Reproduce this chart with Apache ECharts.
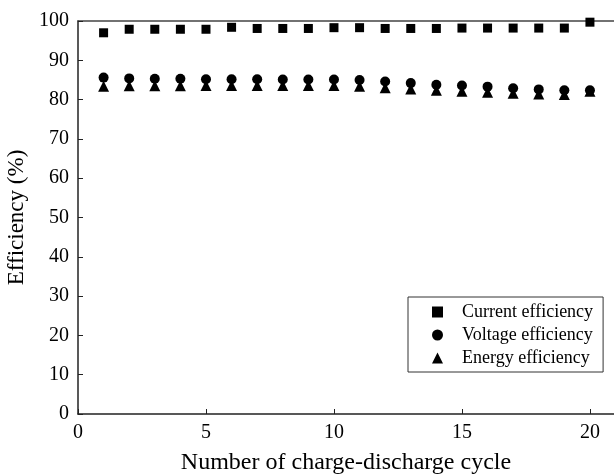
<!DOCTYPE html>
<html lang="en">
<head>
	<meta charset="UTF-8">
	<title>Efficiency</title>
	<script src="https://cdn.jsdelivr.net/npm/echarts@6/dist/echarts.min.js" type="text/javascript"></script>
	<style>
		html,body{margin:0;padding:0;background:#fff;}
		#chart{width:614px;height:474px;}
	</style>
</head>
<body>
<div id="chart"></div>
<script>
	// data
	var cycles=[1,2,3,4,5,6,7,8,9,10,11,12,13,14,15,16,17,18,19,20];
	var currentEff=[97.0,97.9,97.9,97.9,97.9,98.4,98.1,98.1,98.1,98.3,98.3,98.1,98.1,98.1,98.2,98.2,98.2,98.2,98.2,99.7];
	var voltageEff=[85.6,85.4,85.3,85.3,85.2,85.2,85.2,85.1,85.1,85.1,85.0,84.6,84.2,83.8,83.6,83.3,82.9,82.6,82.4,82.4];
	var energyEff=[83.4,83.5,83.5,83.5,83.6,83.6,83.6,83.6,83.6,83.6,83.4,83.0,82.7,82.4,82.1,81.9,81.6,81.4,81.3,82.1];
	var seriesNames=['Current efficiency','Voltage efficiency','Energy efficiency'];

	function pairs(xs,ys){
		var out=[];
		for(var i=0;i<xs.length;i++){
			out.push([xs[i],ys[i]]);
		}
		return out;
	}

	var font='"Liberation Serif","Times New Roman",serif';
	var myChart=echarts.init(document.getElementById('chart'));
	var option={
		backgroundColor:'#fff',
		animation:false,
		grid:{left:78,right:0,top:21,bottom:60,outerBoundsMode:'none',containLabel:false},
		legend:{
			orient:'vertical',
			left:408,
			top:297,
			width:199,
			padding:[6,10,5,24],
			itemGap:5,
			itemWidth:11,
			itemHeight:11,
			borderColor:'#333',
			borderWidth:1,
			data:[
				{name:seriesNames[0],icon:'rect'},
				{name:seriesNames[1],icon:'circle'},
				{name:seriesNames[2],icon:'triangle'}
			],
			textStyle:{fontFamily:font,fontSize:18,color:'#000',padding:[0,0,0,14]}
		},
		xAxis:[{
			type:'value',
			min:0,
			max:20.94,
			interval:5,
			name:'Number of charge-discharge cycle',
			nameLocation:'middle',
			nameGap:37,
			nameTextStyle:{fontFamily:font,fontSize:24,color:'#000'},
			axisLine:{lineStyle:{color:'#222',width:1.5}},
			axisTick:{inside:true,length:5,lineStyle:{color:'#222'}},
			axisLabel:{fontFamily:font,fontSize:20,color:'#000',margin:9,
				formatter:function(v){return v>20?'':v;}},
			splitLine:{show:false}
		},{
			type:'value',
			position:'top',
			min:0,
			max:20.94,
			axisLine:{show:true,onZero:false,lineStyle:{color:'#444',width:1.5}},
			axisTick:{show:false},
			axisLabel:{show:false},
			splitLine:{show:false}
		}],
		yAxis:{
			type:'value',
			min:0,
			max:100,
			interval:10,
			name:'Efficiency (%)',
			nameLocation:'middle',
			nameGap:47,
			nameTextStyle:{fontFamily:font,fontSize:23,color:'#000'},
			axisLine:{show:true,lineStyle:{color:'#222',width:1.5}},
			axisTick:{show:true,inside:true,length:5,lineStyle:{color:'#222'}},
			axisLabel:{fontFamily:font,fontSize:20,color:'#000',margin:9},
			splitLine:{show:false}
		},
		series:[
			{name:seriesNames[0],type:'scatter',symbol:'rect',symbolSize:9,
				itemStyle:{color:'#000',opacity:1},data:pairs(cycles,currentEff)},
			{name:seriesNames[2],type:'scatter',symbol:'triangle',symbolSize:11,
				itemStyle:{color:'#000',opacity:1},data:pairs(cycles,energyEff)},
			{name:seriesNames[1],type:'scatter',symbol:'circle',symbolSize:10,
				itemStyle:{color:'#000',opacity:1},data:pairs(cycles,voltageEff)}
		]
	};
	myChart.setOption(option);
</script>
</body>
</html>
